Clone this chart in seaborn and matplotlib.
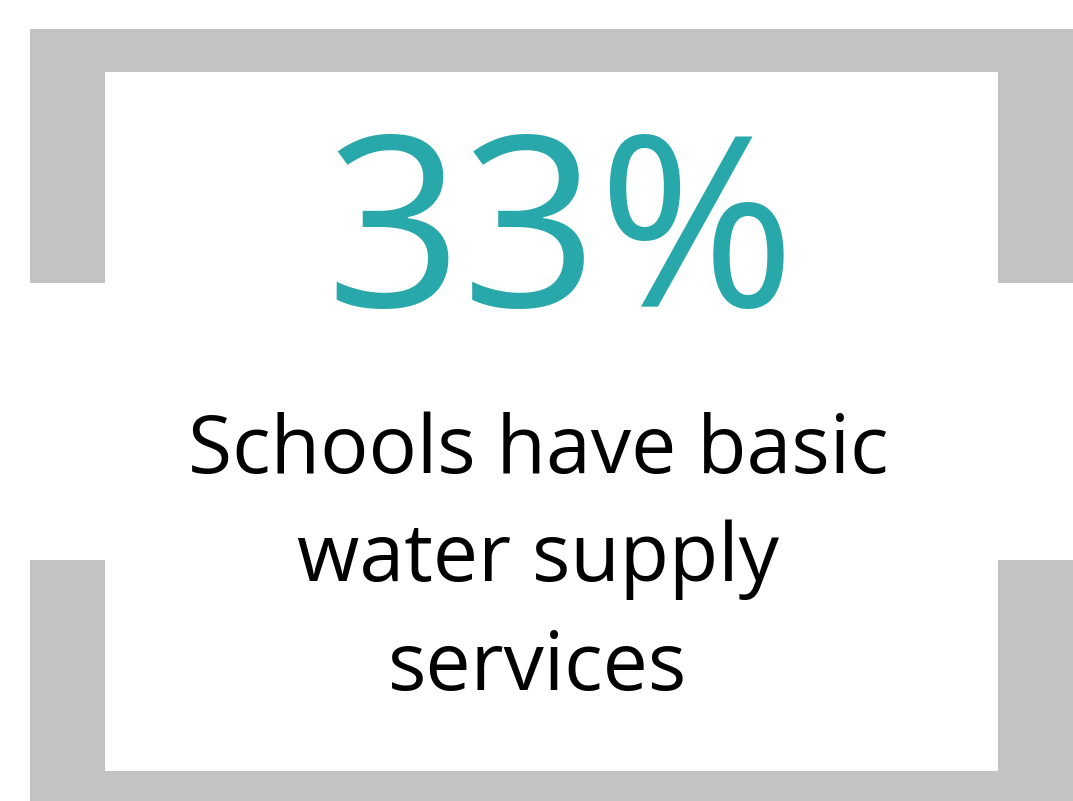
import matplotlib
matplotlib.use("Agg")
import matplotlib.pyplot as plt
import seaborn as sns
from matplotlib.patches import Rectangle

# Infographic content
stat_value = 33
stat_label = ["Schools have basic", "water supply", "services"]

TEAL = "#29A8AC"
GRAY = "#C3C3C3"

sns.set_theme(style="white")
plt.rcParams["font.family"] = ["Open Sans", "DejaVu Sans"]

fig = plt.figure(figsize=(10.73, 8.01), dpi=100)
ax = fig.add_axes([0, 0, 1, 1])
ax.set_xlim(0, 1073)
ax.set_ylim(801, 0)
ax.axis("off")

# Gray bracket frame: outer gray with white inner panel, open on the sides
ax.add_patch(Rectangle((30, 29), 1043, 772, color=GRAY, lw=0))
ax.add_patch(Rectangle((105, 72), 893, 699, color="white", lw=0))
ax.add_patch(Rectangle((30, 283), 75, 277, color="white", lw=0))
ax.add_patch(Rectangle((998, 283), 75, 277, color="white", lw=0))

ax.text(561, 307, f"{stat_value}%", color=TEAL, fontsize=172,
        ha="center", va="baseline")

# one text per line so each baseline sits where the reference has it
for i, line in enumerate(stat_label):
    ax.text(538, 473 + i * 108.5, line, color="black", fontsize=58,
            ha="center", va="baseline")

fig.savefig("out.png", dpi=100)
plt.close(fig)
